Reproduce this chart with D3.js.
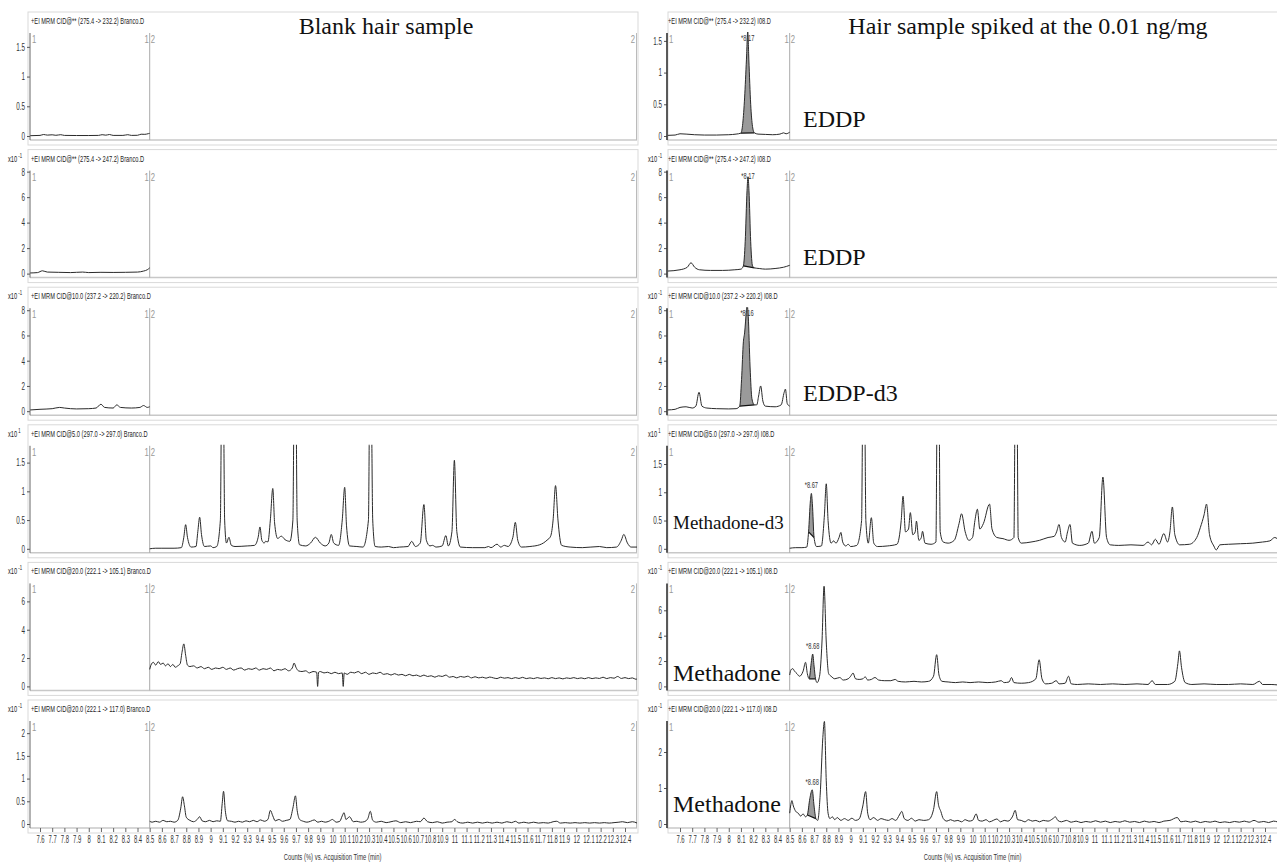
<!DOCTYPE html>
<html><head><meta charset="utf-8">
<script src="https://cdn.jsdelivr.net/npm/d3@7"></script>
<style>
body{margin:0;background:#fff;}
svg{display:block;}
.sm{font-family:"Liberation Sans",Arial,sans-serif;}
.serif{font-family:"Liberation Serif","Times New Roman",serif;}
</style></head><body>
<svg id="c" width="1277" height="863"></svg>
<script>
// ---------------- DATA ----------------
const columnTitles = ["Blank hair sample", "Hair sample spiked at the 0.01 ng/mg"];
const fileNames = ["Branco.D", "I08.D"];
const rowHeaders = [
  "+EI MRM CID@** (275.4 -> 232.2)",
  "+EI MRM CID@** (275.4 -> 247.2)",
  "+EI MRM CID@10.0 (237.2 -> 220.2)",
  "+EI MRM CID@5.0 (297.0 -> 297.0)",
  "+EI MRM CID@20.0 (222.1 -> 105.1)",
  "+EI MRM CID@20.0 (222.1 -> 117.0)"
];
const rowExponents = ["", "-1", "-1", "1", "-1", "-1"];
const compoundNames = ["EDDP", "EDDP", "EDDP-d3", "Methadone-d3", "Methadone", "Methadone"];
const xTickLabels = ["7.6","7.7","7.8","7.9","8","8.1","8.2","8.3","8.4","8.5","8.6","8.7","8.8","8.9","9","9.1","9.2","9.3","9.4","9.5","9.6","9.7","9.8","9.9","10","10.1","10.2","10.3","10.4","10.5","10.6","10.7","10.8","10.9","11","11.1","11.2","11.3","11.4","11.5","11.6","11.7","11.8","11.9","12","12.1","12.2","12.3","12.4"];
const xAxisTitle = "Counts (%) vs. Acquisition Time (min)";
const yTicksLeft  = [[0,0.5,1,1.5],[0,2,4,6,8],[0,2,4,6,8],[0,0.5,1,1.5],[0,2,4,6],[0,0.5,1,1.5,2]];
const yTicksRight = [[0,0.5,1,1.5],[0,2,4,6,8],[0,2,4,6,8],[0,0.5,1,1.5],[0,2,4,6],[0,1,2]];
const yMaxLeft  = [1.75, 8.16, 8.24, 1.81, 7.34, 2.29];
const yMaxRight = [1.64, 8.16, 8.24, 1.84, 8.2, 2.89];

const blank1 = [[7.52,0.005],[7.6,0.01],[7.63,0.025],[7.66,0.015],[7.7,0.02],[7.73,0.012],[7.77,0.022],[7.8,0.01],[7.9,0.008],[8.0,0.008],[8.08,0.01],[8.11,0.022],[8.14,0.014],[8.17,0.025],[8.2,0.01],[8.28,0.01],[8.32,0.022],[8.35,0.01],[8.4,0.012],[8.43,0.03],[8.46,0.028],[8.49,0.04],[8.5,0.045]];
const blank2 = [[7.52,0.05],[7.58,0.08],[7.62,0.22],[7.66,0.12],[7.75,0.1],[7.85,0.08],[7.95,0.12],[8.0,0.08],[8.1,0.1],[8.2,0.09],[8.3,0.1],[8.4,0.12],[8.45,0.2],[8.48,0.3],[8.5,0.45]];
const blank3 = [[7.52,0.1],[7.6,0.15],[7.7,0.2],[7.76,0.3],[7.8,0.25],[7.9,0.18],[8.0,0.2],[8.06,0.25],[8.1,0.55],[8.13,0.3],[8.2,0.25],[8.23,0.5],[8.26,0.3],[8.35,0.25],[8.42,0.3],[8.45,0.45],[8.48,0.3],[8.5,0.35]];
const blank4 = [[8.5,0.0],[8.55,0.01],[8.6,0.01],[8.7,0.01],[8.76,0.02],[8.78,0.2],[8.795,0.42],[8.81,0.2],[8.84,0.03],[8.88,0.04],[8.895,0.3],[8.91,0.55],[8.925,0.25],[8.95,0.04],[9.0,0.05],[9.02,0.02],[9.05,0.04],[9.08,0.5],[9.09,2.5],[9.105,2.5],[9.115,0.5],[9.13,0.1],[9.15,0.2],[9.17,0.06],[9.2,0.04],[9.3,0.05],[9.36,0.06],[9.39,0.2],[9.405,0.38],[9.42,0.15],[9.44,0.1],[9.45,0.13],[9.47,0.12],[9.49,0.5],[9.51,1.05],[9.525,0.45],[9.55,0.18],[9.58,0.22],[9.61,0.16],[9.65,0.13],[9.675,0.5],[9.685,2.5],[9.70,2.5],[9.71,0.5],[9.73,0.07],[9.78,0.05],[9.82,0.1],[9.86,0.2],[9.9,0.1],[9.94,0.05],[9.97,0.1],[9.99,0.25],[10.01,0.1],[10.05,0.06],[10.08,0.5],[10.10,1.07],[10.115,0.4],[10.14,0.05],[10.2,0.04],[10.25,0.03],[10.295,0.5],[10.305,2.5],[10.318,2.5],[10.33,0.5],[10.35,0.04],[10.4,0.03],[10.46,0.04],[10.5,0.02],[10.55,0.03],[10.62,0.04],[10.65,0.13],[10.68,0.04],[10.72,0.1],[10.75,0.77],[10.77,0.15],[10.8,0.05],[10.82,0.06],[10.85,0.03],[10.9,0.05],[10.93,0.23],[10.95,0.05],[10.98,0.3],[11.0,1.54],[11.02,0.3],[11.05,0.03],[11.15,0.02],[11.25,0.02],[11.28,0.04],[11.3,0.02],[11.35,0.08],[11.38,0.03],[11.41,0.06],[11.44,0.04],[11.48,0.2],[11.5,0.46],[11.52,0.15],[11.55,0.03],[11.62,0.04],[11.7,0.07],[11.76,0.15],[11.79,0.22],[11.81,0.5],[11.83,1.1],[11.85,0.5],[11.88,0.06],[11.95,0.03],[12.05,0.02],[12.19,0.04],[12.25,0.02],[12.33,0.03],[12.37,0.15],[12.39,0.25],[12.42,0.1],[12.45,0.03],[12.5,0.03]];
const blank5 = [[8.5,1.2],[8.51,1.5],[8.53,1.7],[8.55,1.5],[8.57,1.75],[8.59,1.55],[8.61,1.65],[8.63,1.45],[8.65,1.6],[8.67,1.4],[8.69,1.55],[8.71,1.35],[8.73,1.45],[8.75,1.6],[8.765,2.4],[8.78,3.0],[8.795,2.2],[8.81,1.5],[8.83,1.4],[8.86,1.45],[8.89,1.3],[8.92,1.4],[8.95,1.25],[8.98,1.35],[9.01,1.2],[9.04,1.3],[9.07,1.25],[9.1,1.35],[9.13,1.2],[9.16,1.3],[9.19,1.15],[9.22,1.25],[9.25,1.3],[9.28,1.15],[9.31,1.25],[9.34,1.2],[9.37,1.3],[9.4,1.15],[9.43,1.25],[9.46,1.2],[9.49,1.3],[9.52,1.1],[9.55,1.2],[9.58,1.15],[9.61,1.25],[9.64,1.1],[9.67,1.3],[9.685,1.65],[9.70,1.35],[9.72,1.1],[9.75,1.05],[9.78,1.1],[9.81,0.95],[9.84,1.05],[9.87,1.0],[9.878,0.0],[9.886,1.0],[9.9,1.05],[9.93,0.95],[9.96,1.0],[9.99,0.9],[10.02,1.0],[10.05,0.9],[10.08,0.95],[10.088,0.0],[10.096,0.95],[10.12,0.85],[10.15,1.0],[10.18,0.95],[10.21,1.05],[10.24,0.9],[10.27,1.0],[10.3,0.85],[10.33,0.95],[10.36,0.9],[10.39,1.0],[10.42,0.85],[10.45,0.9],[10.48,0.8],[10.51,0.9],[10.54,0.8],[10.57,0.85],[10.6,0.75],[10.63,0.85],[10.66,0.75],[10.69,0.8],[10.72,0.7],[10.75,0.8],[10.78,0.7],[10.81,0.75],[10.84,0.65],[10.87,0.75],[10.9,0.7],[10.93,0.8],[10.96,0.65],[10.99,0.7],[11.02,0.6],[11.05,0.7],[11.08,0.65],[11.11,0.72],[11.14,0.6],[11.17,0.68],[11.2,0.6],[11.23,0.65],[11.26,0.58],[11.29,0.66],[11.32,0.6],[11.35,0.55],[11.38,0.65],[11.41,0.58],[11.44,0.62],[11.47,0.55],[11.5,0.62],[11.53,0.56],[11.56,0.64],[11.59,0.55],[11.62,0.6],[11.65,0.55],[11.68,0.62],[11.71,0.56],[11.74,0.6],[11.77,0.54],[11.8,0.62],[11.83,0.55],[11.86,0.6],[11.89,0.53],[11.92,0.6],[11.95,0.56],[11.98,0.62],[12.01,0.55],[12.04,0.6],[12.07,0.54],[12.1,0.62],[12.13,0.55],[12.16,0.6],[12.19,0.56],[12.22,0.65],[12.25,0.55],[12.28,0.62],[12.31,0.58],[12.34,0.7],[12.37,0.56],[12.4,0.62],[12.43,0.55],[12.46,0.6],[12.49,0.5],[12.5,0.55]];
const blank6 = [[8.5,0.06],[8.52,0.04],[8.55,0.06],[8.58,0.04],[8.61,0.08],[8.64,0.05],[8.67,0.06],[8.7,0.04],[8.73,0.08],[8.755,0.35],[8.77,0.6],[8.785,0.4],[8.8,0.15],[8.83,0.08],[8.86,0.05],[8.89,0.1],[8.91,0.16],[8.93,0.07],[8.96,0.05],[8.99,0.08],[9.02,0.05],[9.05,0.07],[9.08,0.06],[9.095,0.45],[9.106,0.72],[9.12,0.3],[9.14,0.07],[9.17,0.06],[9.2,0.04],[9.23,0.06],[9.26,0.04],[9.29,0.07],[9.32,0.05],[9.35,0.08],[9.38,0.05],[9.41,0.09],[9.44,0.06],[9.47,0.1],[9.49,0.3],[9.51,0.18],[9.53,0.07],[9.56,0.1],[9.59,0.06],[9.62,0.08],[9.65,0.1],[9.675,0.35],[9.696,0.62],[9.71,0.3],[9.73,0.1],[9.76,0.06],[9.79,0.04],[9.82,0.06],[9.85,0.09],[9.88,0.04],[9.91,0.06],[9.94,0.04],[9.97,0.06],[10.0,0.1],[10.03,0.04],[10.06,0.06],[10.08,0.18],[10.095,0.25],[10.11,0.1],[10.14,0.16],[10.17,0.05],[10.2,0.06],[10.23,0.04],[10.26,0.05],[10.29,0.12],[10.31,0.28],[10.33,0.08],[10.36,0.04],[10.4,0.06],[10.44,0.03],[10.48,0.05],[10.52,0.07],[10.56,0.03],[10.6,0.05],[10.64,0.03],[10.69,0.06],[10.72,0.05],[10.75,0.13],[10.78,0.05],[10.82,0.03],[10.86,0.05],[10.9,0.02],[10.94,0.04],[10.98,0.05],[11.0,0.1],[11.03,0.04],[11.07,0.02],[11.11,0.04],[11.15,0.02],[11.19,0.04],[11.23,0.02],[11.27,0.04],[11.31,0.02],[11.35,0.04],[11.39,0.02],[11.43,0.05],[11.47,0.03],[11.5,0.06],[11.53,0.02],[11.57,0.04],[11.61,0.02],[11.65,0.04],[11.69,0.02],[11.73,0.03],[11.77,0.02],[11.81,0.05],[11.84,0.06],[11.87,0.02],[11.91,0.03],[11.95,0.02],[11.99,0.03],[12.03,0.02],[12.07,0.03],[12.11,0.02],[12.15,0.03],[12.19,0.02],[12.23,0.03],[12.27,0.02],[12.31,0.03],[12.35,0.04],[12.38,0.05],[12.42,0.03],[12.46,0.05],[12.5,0.02]];

const spiked1 = [[7.5,0.01],[7.56,0.015],[7.6,0.035],[7.65,0.03],[7.72,0.02],[7.8,0.015],[7.9,0.015],[8.0,0.02],[8.06,0.03],[8.1,0.045],[8.115,0.2],[8.13,0.6],[8.145,1.2],[8.156,1.65],[8.165,1.2],[8.18,0.5],[8.195,0.15],[8.21,0.05],[8.24,0.03],[8.3,0.025],[8.36,0.02],[8.42,0.03],[8.45,0.05],[8.47,0.035],[8.5,0.06]];
const spiked2 = [[7.5,0.2],[7.6,0.3],[7.66,0.5],[7.69,0.85],[7.72,0.5],[7.76,0.3],[7.85,0.25],[7.95,0.25],[8.05,0.3],[8.1,0.35],[8.12,0.6],[8.135,2.5],[8.15,6.5],[8.158,7.6],[8.166,6.5],[8.18,2.5],[8.195,0.6],[8.21,0.45],[8.25,0.4],[8.3,0.35],[8.38,0.4],[8.45,0.5],[8.5,0.65]];
const spiked3 = [[7.5,0.1],[7.56,0.15],[7.6,0.3],[7.65,0.35],[7.7,0.25],[7.73,0.4],[7.756,1.5],[7.78,0.4],[7.82,0.25],[7.9,0.2],[8.0,0.18],[8.06,0.2],[8.09,0.4],[8.105,2.5],[8.12,5.5],[8.13,6.2],[8.145,8.0],[8.15,8.5],[8.16,7.5],[8.175,3.5],[8.19,1.0],[8.21,0.5],[8.23,0.5],[8.245,1.2],[8.262,2.0],[8.28,0.8],[8.3,0.4],[8.38,0.35],[8.43,0.5],[8.455,1.5],[8.465,1.75],[8.48,0.6],[8.5,0.4]];
const spiked4 = [[8.5,0.01],[8.55,0.02],[8.6,0.02],[8.64,0.03],[8.655,0.3],[8.67,0.85],[8.678,0.98],[8.686,0.8],[8.70,0.2],[8.72,0.04],[8.76,0.05],[8.785,0.6],[8.80,1.15],[8.815,0.5],[8.84,0.1],[8.86,0.14],[8.88,0.1],[8.905,0.2],[8.92,0.29],[8.935,0.12],[8.96,0.05],[8.98,0.08],[9.0,0.04],[9.05,0.06],[9.09,0.5],[9.10,2.5],[9.115,2.5],[9.125,0.5],[9.145,0.1],[9.17,0.55],[9.19,0.1],[9.22,0.04],[9.3,0.05],[9.38,0.08],[9.415,0.5],[9.43,0.93],[9.45,0.3],[9.475,0.35],[9.49,0.64],[9.51,0.25],[9.53,0.3],[9.54,0.49],[9.56,0.15],[9.58,0.2],[9.59,0.31],[9.61,0.1],[9.66,0.08],[9.7,0.12],[9.71,2.5],[9.725,2.5],[9.735,0.3],[9.76,0.12],[9.8,0.1],[9.85,0.15],[9.89,0.45],[9.91,0.62],[9.94,0.3],[9.97,0.15],[10.0,0.2],[10.02,0.5],[10.04,0.7],[10.06,0.35],[10.09,0.45],[10.14,0.79],[10.16,0.35],[10.2,0.2],[10.25,0.18],[10.3,0.15],[10.34,0.2],[10.35,2.5],[10.365,2.5],[10.375,0.2],[10.4,0.1],[10.48,0.12],[10.55,0.15],[10.62,0.2],[10.67,0.22],[10.69,0.3],[10.71,0.43],[10.73,0.2],[10.76,0.12],[10.78,0.3],[10.8,0.43],[10.82,0.1],[10.88,0.06],[10.95,0.1],[10.98,0.31],[11.0,0.1],[11.04,0.2],[11.07,1.27],[11.1,0.2],[11.13,0.07],[11.2,0.06],[11.3,0.07],[11.4,0.06],[11.44,0.12],[11.47,0.07],[11.5,0.17],[11.53,0.08],[11.57,0.27],[11.6,0.12],[11.62,0.3],[11.64,0.74],[11.66,0.25],[11.7,0.07],[11.78,0.08],[11.84,0.2],[11.87,0.38],[11.9,0.6],[11.92,0.79],[11.945,0.25],[11.98,0.05],[12.0,-0.02],[12.03,0.07],[12.1,0.08],[12.2,0.09],[12.3,0.1],[12.38,0.12],[12.44,0.14],[12.48,0.2],[12.5,0.18]];
const spiked5 = [[8.5,0.9],[8.51,1.3],[8.525,1.4],[8.54,1.2],[8.56,1.0],[8.58,0.8],[8.61,1.2],[8.63,1.9],[8.645,1.0],[8.66,0.6],[8.676,1.8],[8.689,2.55],[8.70,1.6],[8.712,0.6],[8.725,0.3],[8.745,0.8],[8.765,3.5],[8.782,7.9],[8.80,3.5],[8.82,1.0],[8.84,0.8],[8.87,0.6],[8.91,0.7],[8.94,0.5],[8.98,0.6],[9.0,0.8],[9.02,1.05],[9.04,0.6],[9.07,0.55],[9.1,0.6],[9.12,0.75],[9.14,0.5],[9.17,0.55],[9.2,0.7],[9.23,0.5],[9.28,0.45],[9.33,0.45],[9.365,0.55],[9.39,0.4],[9.45,0.35],[9.52,0.4],[9.58,0.35],[9.64,0.4],[9.68,0.8],[9.706,2.5],[9.725,0.9],[9.75,0.4],[9.8,0.35],[9.86,0.3],[9.92,0.35],[9.98,0.3],[10.05,0.35],[10.12,0.3],[10.19,0.35],[10.235,0.45],[10.26,0.3],[10.3,0.35],[10.32,0.7],[10.34,0.3],[10.4,0.25],[10.46,0.3],[10.52,0.6],[10.547,2.1],[10.57,0.6],[10.6,0.2],[10.65,0.25],[10.687,0.45],[10.71,0.2],[10.76,0.25],[10.788,0.8],[10.81,0.2],[10.86,0.15],[10.95,0.2],[11.05,0.15],[11.15,0.2],[11.25,0.15],[11.35,0.2],[11.44,0.15],[11.474,0.45],[11.5,0.15],[11.6,0.15],[11.66,0.4],[11.685,1.8],[11.698,2.8],[11.715,1.5],[11.745,0.3],[11.8,0.15],[11.9,0.2],[12.0,0.15],[12.1,0.15],[12.2,0.2],[12.3,0.15],[12.355,0.4],[12.38,0.15],[12.45,0.15],[12.5,0.12]];
const spiked6 = [[8.5,0.3],[8.51,0.55],[8.518,0.65],[8.53,0.5],[8.55,0.35],[8.57,0.3],[8.59,0.22],[8.61,0.28],[8.63,0.2],[8.645,0.25],[8.665,0.7],[8.685,0.95],[8.70,0.5],[8.715,0.15],[8.73,0.1],[8.75,0.8],[8.772,2.4],[8.785,2.85],[8.8,1.2],[8.815,0.3],[8.83,0.15],[8.85,0.2],[8.87,0.12],[8.89,0.18],[8.92,0.1],[8.95,0.15],[8.98,0.1],[9.01,0.16],[9.04,0.1],[9.07,0.14],[9.1,0.5],[9.123,0.9],[9.14,0.3],[9.16,0.12],[9.19,0.18],[9.22,0.1],[9.25,0.15],[9.28,0.12],[9.31,0.1],[9.34,0.15],[9.37,0.1],[9.4,0.25],[9.42,0.35],[9.44,0.15],[9.47,0.1],[9.5,0.16],[9.53,0.08],[9.56,0.12],[9.6,0.1],[9.64,0.12],[9.68,0.4],[9.706,0.9],[9.72,0.55],[9.74,0.35],[9.76,0.15],[9.79,0.08],[9.82,0.12],[9.85,0.08],[9.88,0.1],[9.91,0.06],[9.94,0.12],[9.97,0.08],[10.0,0.1],[10.03,0.28],[10.05,0.1],[10.08,0.08],[10.11,0.12],[10.14,0.06],[10.17,0.1],[10.2,0.14],[10.23,0.06],[10.26,0.1],[10.29,0.08],[10.33,0.22],[10.35,0.38],[10.37,0.12],[10.4,0.1],[10.43,0.06],[10.46,0.12],[10.49,0.08],[10.52,0.1],[10.55,0.06],[10.58,0.1],[10.62,0.08],[10.66,0.15],[10.68,0.2],[10.7,0.1],[10.73,0.06],[10.77,0.1],[10.81,0.05],[10.85,0.08],[10.89,0.04],[10.93,0.07],[10.97,0.05],[11.01,0.09],[11.05,0.05],[11.09,0.08],[11.13,0.04],[11.17,0.07],[11.21,0.05],[11.25,0.09],[11.29,0.05],[11.33,0.07],[11.37,0.04],[11.41,0.08],[11.45,0.05],[11.49,0.07],[11.53,0.04],[11.57,0.08],[11.62,0.1],[11.68,0.18],[11.71,0.06],[11.75,0.08],[11.79,0.05],[11.83,0.08],[11.87,0.04],[11.91,0.07],[11.95,0.05],[11.99,0.08],[12.03,0.04],[12.07,0.06],[12.11,0.04],[12.15,0.07],[12.19,0.05],[12.23,0.08],[12.27,0.05],[12.31,0.1],[12.35,0.05],[12.39,0.07],[12.43,0.04],[12.47,0.08],[12.5,0.06]];

const blankTraces = [blank1, blank2, blank3, blank4, blank5, blank6];
const spikedTraces = [spiked1, spiked2, spiked3, spiked4, spiked5, spiked6];
const peakWindows = [[8.10,8.21],[8.11,8.21],[8.09,8.21],[8.645,8.715],[8.66,8.72],[8.645,8.725]];
const peakApex = [8.156, 8.158, 8.15, 8.678, 8.689, 8.685];
const peakLabels = ["*8.17", "*8.17", "*8.16", "*8.67", "*8.68", "*8.68"];

// ---------------- LAYOUT ----------------
const svg = d3.select("#c");
const rowZero = i => 136 + 137.6 * i;
const PLOT_H = 104;
const SX = 0.6; // horizontal condensing of the instrument's narrow font
const cols = [
  { off: 0, xs: d3.scaleLinear().domain([7.6, 12.4]).range([40, 625]), axisX: 30, right: 637,
    traces: blankTraces, yMax: yMaxLeft, yTicks: yTicksLeft, file: fileNames[0], showEnd: true },
  { off: 640, xs: d3.scaleLinear().domain([7.6, 12.4]).range([680, 1265]), axisX: 667, right: 1277,
    traces: spikedTraces, yMax: yMaxRight, yTicks: yTicksRight, file: fileNames[1], showEnd: false }
];
const defs = svg.append("defs");
const line = d3.line().curve(d3.curveMonotoneX);

function narrowText(parent, x, y, size, txt, anchor, fill, sx) {
  return parent.append("text").attr("class", "sm")
    .attr("transform", `translate(${x},${y}) scale(${sx || SX},1)`)
    .attr("text-anchor", anchor || "start").attr("font-size", size).attr("fill", fill || "#222").text(txt);
}

cols.forEach((c, ci) => {
  const g = svg.append("g");
  for (let r = 0; r < 6; r++) {
    const Z = rowZero(r), top = Z - PLOT_H;
    const ys = d3.scaleLinear().domain([0, c.yMax[r]]).range([Z, top]);
    g.append("rect").attr("x", c.off + 28).attr("y", Z - 124).attr("width", (c.right - c.off) - 28 + (ci === 0 ? 1 : 2))
      .attr("height", 133).attr("fill", "none").attr("stroke", "#d9d9d9").attr("stroke-width", 1);
    g.append("line").attr("x1", c.axisX).attr("x2", c.right).attr("y1", Z + 4).attr("y2", Z + 4)
      .attr("stroke", "#c8c8c8").attr("stroke-width", 1.5);
    // header
    narrowText(g, c.axisX + 1, Z - 112, 9.5, rowHeaders[r] + " " + c.file, "start", "#222");
    if (rowExponents[r]) {
      const m = g.append("text").attr("class", "sm")
        .attr("transform", `translate(${c.off + 8},${Z - 112}) scale(${SX},1)`)
        .attr("font-size", 9.5).attr("fill", "#222");
      m.append("tspan").text("x10");
      m.append("tspan").attr("dy", -4).attr("font-size", 7).text(" " + rowExponents[r]);
    }
    // segment dividers
    const x85 = c.xs(8.5);
    g.append("line").attr("x1", x85).attr("x2", x85).attr("y1", top + 1).attr("y2", Z + 4)
      .attr("stroke", "#aaa").attr("stroke-width", 1);
    narrowText(g, x85 - 1, top + 11, 11, "1", "end", "#999", 0.7);
    narrowText(g, x85 + 1, top + 11, 11, "2", "start", "#999", 0.7);
    narrowText(g, c.axisX + 2, top + 11, 11, "1", "start", "#999", 0.7);
    if (c.showEnd) {
      g.append("line").attr("x1", c.right - 0.5).attr("x2", c.right - 0.5).attr("y1", top + 1).attr("y2", Z + 4)
        .attr("stroke", "#bbb").attr("stroke-width", 1);
      narrowText(g, c.right - 2, top + 11, 11, "2", "end", "#999", 0.7);
    }
    // y axis
    const ya = g.append("g").attr("transform", `translate(${c.axisX},0)`)
      .call(d3.axisLeft(ys).tickValues(c.yTicks[r]).tickSize(3).tickPadding(2).tickFormat(d3.format("~g")));
    ya.select(".domain").remove();
    ya.selectAll("line").attr("stroke", "#555");
    ya.selectAll("text").attr("class", "sm").attr("font-size", 10.5).attr("fill", "#333")
      .attr("font-family", null).attr("transform", `scale(${SX},1)`).attr("x", -5 / SX);
    g.append("line").attr("x1", c.axisX).attr("x2", c.axisX).attr("y1", top + 1).attr("y2", Z + 4)
      .attr("stroke", ci === 1 ? "#333" : "#666").attr("stroke-width", ci === 1 ? 1.6 : 1);
    // clip
    const cid = `clip${ci}${r}`;
    defs.append("clipPath").attr("id", cid).append("rect")
      .attr("x", c.axisX).attr("y", top).attr("width", c.right - c.axisX).attr("height", PLOT_H + 3);
    const pg = g.append("g").attr("clip-path", `url(#${cid})`);
    const data = c.traces[r];
    line.x(d => c.xs(d[0])).y(d => ys(d[1]));
    if (ci === 1) {
      const [a, b] = peakWindows[r];
      const seg = data.filter(d => d[0] >= a && d[0] <= b);
      pg.append("path").attr("d", line(seg) + "Z").attr("fill", "#9a9a9a").attr("stroke", "none");
      pg.append("line").attr("x1", c.xs(seg[0][0])).attr("y1", ys(seg[0][1]))
        .attr("x2", c.xs(seg[seg.length - 1][0])).attr("y2", ys(seg[seg.length - 1][1]))
        .attr("stroke", "#111").attr("stroke-width", 1.2);
    }
    pg.append("path").attr("d", line(data)).attr("fill", "none").attr("stroke", "#2a2a2a").attr("stroke-width", 1);
    if (ci === 1) {
      const apexV = d3.max(data.filter(d => d[0] >= peakWindows[r][0] && d[0] <= peakWindows[r][1]), d => d[1]);
      const ly = Math.max(top + 9, ys(apexV) - 5);
      narrowText(g, c.xs(peakApex[r]), ly, 9.5, peakLabels[r], "middle", "#333");
    }
  }
  // bottom axis
  const Z6 = rowZero(5);
  const xa = g.append("g").attr("transform", `translate(0,${Z6 + 4})`)
    .call(d3.axisBottom(c.xs).tickValues(xTickLabels.map(Number)).tickSize(4).tickPadding(4)
      .tickFormat((d, i) => xTickLabels[i]));
  xa.select(".domain").remove();
  xa.selectAll("line").attr("stroke", "#666");
  xa.selectAll("text").attr("class", "sm").attr("font-size", 10.5).attr("fill", "#333")
    .attr("font-family", null).attr("transform", "scale(0.56,1)");
  narrowText(g, c.xs(10), 860, 9.5, xAxisTitle, "middle", "#333", 0.62);
  g.append("text").attr("class", "serif").attr("x", ci === 0 ? 386 : 1028).attr("y", 34).attr("text-anchor", "middle")
    .attr("font-size", 24).attr("fill", "#111").text(columnTitles[ci]);
});

// compound labels on spiked column
const labelX = [803, 803, 803, 673, 673, 673];
const labelSize = [24, 24, 24, 19, 24, 24];
const labelDy = [-9, -9, -10, -20, -5, -12];
compoundNames.forEach((n, r) => {
  svg.append("text").attr("class", "serif").attr("x", labelX[r]).attr("y", rowZero(r) + labelDy[r])
    .attr("font-size", labelSize[r]).attr("fill", "#111").text(n);
});
</script></body></html>
